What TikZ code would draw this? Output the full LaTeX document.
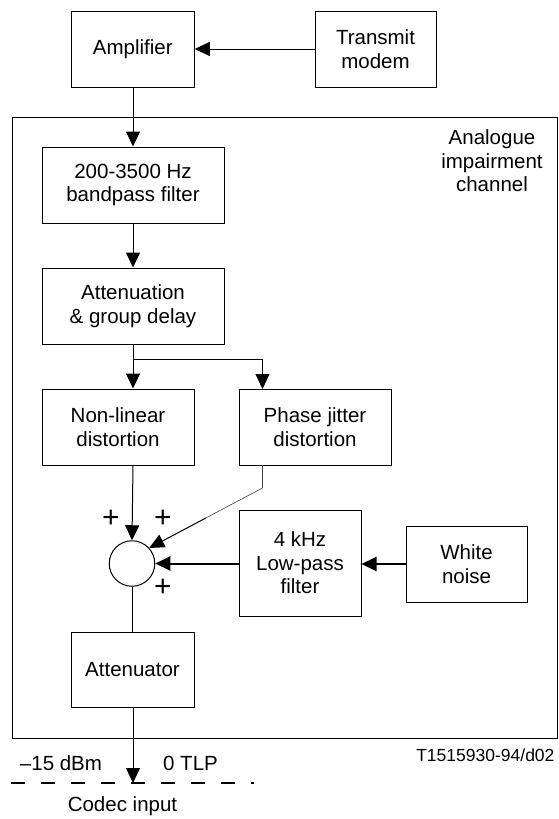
\documentclass[tikz,border=0pt]{standalone}
\usepackage{fontspec}
\setmainfont{Liberation Sans}
\usetikzlibrary{arrows.meta,calc}
\begin{document}
\begin{tikzpicture}[x=1pt,y=-1pt,
  every node/.style={font=\fontsize{20.5}{23.5}\selectfont},
  blk/.style={draw,line width=1pt,inner sep=0pt,align=center},
  ln/.style={line width=1pt},
  arr/.style={line width=1pt,-{Triangle[length=15pt,width=14pt]}},
  tharr/.style={line width=2pt,-{Triangle[length=15pt,width=14pt]}},
  thin/.style={line width=0.6pt,draw=black!75},
  plus/.style={font=\fontsize{30}{30}\selectfont,inner sep=0pt}]
\useasboundingbox (0,0) rectangle (559,819);
% frame
\draw[line width=1pt] (12,117) rectangle (557.5,738);
\node[align=center] (lbl) at (492,161) {Analogue\\impairment\\channel};
% blocks
\node[blk,minimum width=123pt,minimum height=76pt] (amp) at (132.75,49) {Amplifier};
\node[blk,minimum width=121pt,minimum height=76pt] (tx) at (375.5,49) {Transmit\\modem};
\node[blk,minimum width=182pt,minimum height=76pt] (bpf) at (133,185) {200-3500 Hz\\bandpass filter};
\node[blk,minimum width=182pt,minimum height=76pt] (att) at (133,306) {Attenuation\\\& group delay};
\node[blk,minimum width=152pt,minimum height=76pt] (nl) at (118,427) {Non-linear\\distortion};
\node[blk,minimum width=152pt,minimum height=76pt] (pj) at (315,427) {Phase jitter\\distortion};
\node[blk,minimum width=122pt,minimum height=106pt] (lpf) at (300,563) {4 kHz\\Low-pass\\filter};
\node[blk,minimum width=121pt,minimum height=76pt] (wn) at (466.5,564) {White\\noise};
\node[blk,minimum width=123pt,minimum height=75pt] (atn) at (132.5,669.5) {Attenuator};
\node[draw,circle,line width=1pt,minimum size=45.5pt,inner sep=0pt] (sum) at (132,563.5) {};
% plus signs
\node[plus] (p1) at (111,519) {+};
\node[plus] (p2) at (163,519) {+};
\node[plus] (p3) at (163,588) {+};
% helper coordinates
\coordinate (br) at (133,359);
\coordinate (pjtop) at (262.5,389);
\coordinate (pjbot) at (262.5,465);
\coordinate (pjk) at (262.5,488);
\coordinate (codec) at (133,783);
\coordinate (dl) at (11,783);
\coordinate (dr) at (254,783);
% connectors
\draw[arr] (tx.west) -- (amp.east);
\draw[arr] (amp.south -| bpf.north) -- (bpf.north);
\draw[arr] (bpf.south) -- (att.north);
\draw[ln] (att.south) -- (br);
\draw[arr] (br) -- (br |- nl.north);
\draw[arr] (br) -| (pjtop);
\draw[arr] (br |- nl.south) -- (sum.north);
\draw[thin] (pjbot) -- (pjk) -- ($(sum.42)!0.5!(pjk)$);
\draw[arr] ($(sum.42)!0.5!(pjk)$) -- (sum.42);
\draw[tharr] (lpf.west |- sum.east) -- (sum.east);
\draw[tharr] (wn.west) -- (lpf.east |- wn.west);
\draw[ln] (sum.south) -- (sum.south |- atn.north);
\draw[arr] (atn.south -| codec) -- (codec);
\draw[line width=1.4pt,dash pattern=on 14pt off 16pt] (dl) -- (dr);
% texts
\node (dbm) at (61,763.5) {–15 dBm};
\node (tlp) at (190.5,763.5) {0 TLP};
\node (cin) at (122.5,806) {Codec input};
\node[font=\fontsize{17.5}{20}\selectfont,anchor=east] (ref) at (558,755) {T1515930-94/d02};
\end{tikzpicture}
\end{document}
